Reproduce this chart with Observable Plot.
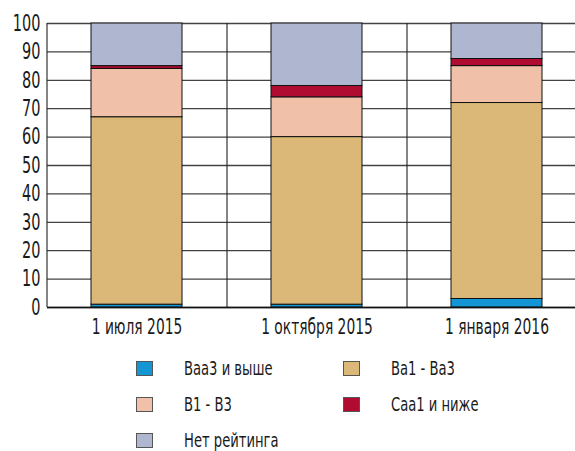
<!DOCTYPE html>
<html>
<head>
<meta charset="utf-8">
<script src="https://cdn.jsdelivr.net/npm/d3@7"></script>
<script src="https://cdn.jsdelivr.net/npm/@observablehq/plot@0.6"></script>
<style>
  html, body { margin: 0; padding: 0; background: #fff; }
  body { width: 575px; height: 451px; overflow: hidden; font-family: "DejaVu Sans Condensed", "DejaVu Sans", sans-serif; }
  #legend { position: relative; display: grid; grid-template-columns: 207px 200px; grid-auto-rows: 36px; padding-left: 136px; padding-top: 5px; font-size: 20px; line-height: 18px; color: #1a1a1a; }
  .item { display: flex; align-items: center; white-space: nowrap; }
  .sw { width: 15px; height: 13px; border: 1px solid #555; margin-right: 31px; box-sizing: content-box; flex: none; }
  .lt { display: inline-block; transform: scaleX(0.73); transform-origin: left center; }
</style>
</head>
<body>
<div id="chart"></div>
<div id="legend"></div>
<script>
const dates = ["1 июля 2015", "1 октября 2015", "1 января 2016"];
const series = ["Baa3 и выше", "Ba1 - Ba3", "B1 - B3", "Caa1 и ниже", "Нет рейтинга"];
const colors = ["#1496d4", "#dbb877", "#f0c0a8", "#b00b30", "#afb7d0"];
const baa3 = [1, 1, 3];
const ba = [66, 59, 69];
const b = [17, 14, 13];
const caa = [1, 4, 2.5];
const noRating = [15, 22, 12.5];
const yTicks = [0, 10, 20, 30, 40, 50, 60, 70, 80, 90, 100];

const valuesBySeries = [baa3, ba, b, caa, noRating];
const data = [];
series.forEach((s, i) => dates.forEach((d, j) => data.push({date: d, series: s, value: valuesBySeries[i][j]})));

const font = '"DejaVu Sans Condensed", "DejaVu Sans", sans-serif';

const chart = Plot.plot({
  width: 575,
  height: 345,
  marginLeft: 47,
  marginTop: 23,
  marginBottom: 38,
  marginRight: 0,
  style: {fontFamily: font, fontSize: "22px", color: "#1a1a1a", background: "#fff", overflow: "visible"},
  x: {domain: dates, range: [47, 587], paddingInner: 0.494, paddingOuter: 0.247, label: null},
  y: {domain: [0, 100], label: null},
  color: {domain: series, range: colors},
  marks: [
    Plot.ruleY(yTicks, {stroke: "#222", strokeOpacity: 0.85, strokeWidth: 1.3}),
    Plot.ruleX(dates, {dx: -90, y1: 0, y2: 100, stroke: "#222", strokeOpacity: 0.85, strokeWidth: 1.3}),
    Plot.barY(data, {x: "date", y: "value", fill: "series", stroke: "#111", strokeWidth: 1, order: series}),
    Plot.ruleY([0], {stroke: "#111", strokeWidth: 1.5}),
    Plot.axisY({ticks: yTicks, tickSize: 0, tickPadding: 7, fontSize: 23, label: null}),
    Plot.axisX({tickSize: 0, tickPadding: 11, fontSize: 22, label: null})
  ]
});
document.getElementById("chart").appendChild(chart);

// condense the glyphs horizontally (narrow typeface look)
chart.querySelectorAll("text").forEach(t => {
  const tr = t.getAttribute("transform");
  if (tr && !t.hasAttribute("x")) {
    t.setAttribute("transform", tr + " scale(0.7,1)");
  } else {
    const len = t.getComputedTextLength();
    if (len > 0) {
      t.setAttribute("textLength", (len * 0.7).toFixed(1));
      t.setAttribute("lengthAdjust", "spacingAndGlyphs");
    }
  }
});

const legend = document.getElementById("legend");
[0, 1, 2, 3, 4].forEach(i => {
  const it = document.createElement("div");
  it.className = "item";
  const sw = document.createElement("span");
  sw.className = "sw";
  sw.style.background = colors[i];
  const t = document.createElement("span");
  t.className = "lt";
  t.textContent = series[i];
  it.appendChild(sw); it.appendChild(t);
  legend.appendChild(it);
});
</script>
</body>
</html>
